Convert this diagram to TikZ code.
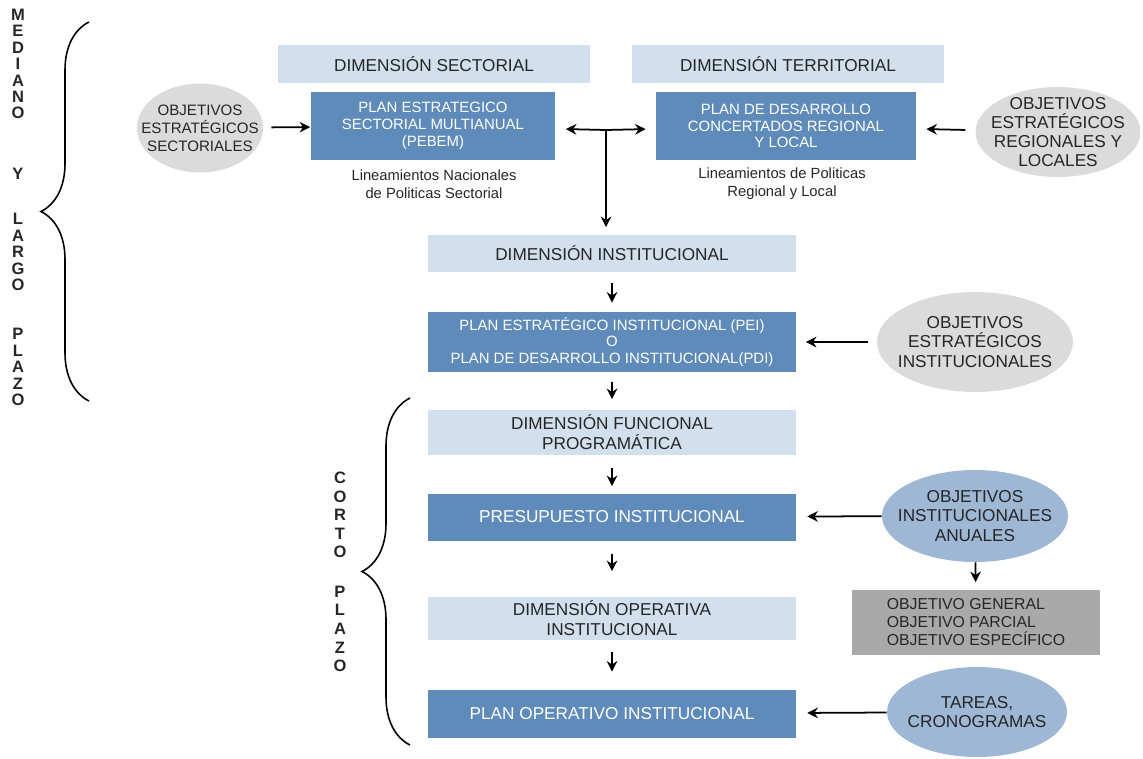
\documentclass[tikz,border=0pt]{standalone}
\usepackage{fontspec}
\setmainfont{Liberation Sans}[BoldFont={Liberation Sans Bold}]
\usepackage{tikz}
\usetikzlibrary{positioning,shapes.geometric,arrows.meta,decorations.pathreplacing}

\definecolor{dimblue}{HTML}{D2DFEC}
\definecolor{planblue}{HTML}{5F8BBA}
\definecolor{objgray}{HTML}{DBDBDB}
\definecolor{objblue}{HTML}{9DB7D5}
\definecolor{listgray}{HTML}{A9A9A9}
\definecolor{txtgray}{HTML}{262626}

\tikzset{
  dimbox/.style={fill=dimblue, text=txtgray, minimum width=7.36cm, align=center, inner sep=2pt, font=\fontsize{9.8}{11.2}\selectfont},
  planbox/.style={fill=planblue, text=white, minimum width=7.38cm, align=center, inner sep=2pt, font=\fontsize{8.5}{9.5}\selectfont},
  objell/.style={ellipse, fill=objgray, text=txtgray, align=center, inner sep=-8pt, font=\fontsize{9.8}{11}\selectfont},
  objanu/.style={objell, fill=objblue},
  listbox/.style={fill=listgray, text=txtgray, align=left, inner sep=2pt, font=\fontsize{9}{10.5}\selectfont},
  linea/.style={text=txtgray, align=center, inner sep=0pt, font=\fontsize{8.4}{10.2}\selectfont},
  vletters/.style={text=txtgray, align=center, inner sep=0pt, font=\bfseries\fontsize{9.4}{#1}\selectfont},
  arr/.style={-{Stealth[length=6pt,width=6pt]}, line width=1pt},
  bigbrace/.style={decorate, decoration={brace, amplitude=0.96cm}, line width=0.9pt}
}

\begin{document}
\begin{tikzpicture}[x=0.02cm, y=-0.02cm]
\useasboundingbox (0,0) rectangle (1143,758);

% plazo labels and braces
\node[vletters=9.36pt] (lmed) at (18,64) {M\\E\\D\\I\\A\\N\\O};
\node[vletters=9.36pt] (ly) at (18,174) {Y};
\node[vletters=9.36pt] (llar) at (18,252) {L\\A\\R\\G\\O};
\node[vletters=9.36pt] (lpla) at (18,367) {P\\L\\A\\Z\\O};
\node[vletters=10.6pt] (lcor) at (340,515) {C\\O\\R\\T\\O};
\node[vletters=10.6pt] (lplz) at (340,629) {P\\L\\A\\Z\\O};
\draw[bigbrace] (89,401) -- (89,22);
\draw[bigbrace] (410,745) -- (410,398);

% dimensiones
\node[dimbox, minimum width=6.24cm, minimum height=0.76cm] (dsec) at (434,64) {DIMENSIÓN SECTORIAL};
\node[dimbox, minimum width=6.26cm, minimum height=0.76cm] (dter) at (788,64) {DIMENSIÓN TERRITORIAL};
\node[planbox, minimum width=4.9cm, minimum height=1.36cm] (pebem) at (433,126) {PLAN ESTRATEGICO\\SECTORIAL MULTIANUAL\\(PEBEM)};
\node[planbox, minimum width=5.2cm, minimum height=1.36cm] (pdc) at (786,126) {PLAN DE DESARROLLO\\CONCERTADOS REGIONAL\\Y LOCAL};
\node[linea] (lnac) at (434,184) {Lineamientos Nacionales\\de Politicas Sectorial};
\node[linea] (lreg) at (782,184) {Lineamientos de Politicas\\Regional y Local};

\node[objell, minimum width=2.48cm, minimum height=1.78cm, font=\fontsize{8.6}{10.2}\selectfont] (osec) at (200,128) {OBJETIVOS\\ESTRATÉGICOS\\SECTORIALES};
\node[objell, minimum width=3.3cm, minimum height=1.8cm, font=\fontsize{9.8}{10.8}\selectfont] (oreg) at (1058,132) {OBJETIVOS\\ESTRATÉGICOS\\REGIONALES Y\\LOCALES};

% cadena institucional
\node[dimbox, minimum height=0.74cm] (dinst) at (612,253) {DIMENSIÓN INSTITUCIONAL};
\node[planbox, minimum height=1.2cm] (pei) at (612,342) {PLAN ESTRATÉGICO INSTITUCIONAL (PEI)\\O\\PLAN DE DESARROLLO INSTITUCIONAL(PDI)};
\node[dimbox, minimum height=0.9cm] (dfun) at (612,432) {DIMENSIÓN FUNCIONAL\\PROGRAMÁTICA};
\node[planbox, minimum width=7.36cm, minimum height=0.94cm, font=\fontsize{9.8}{11}\selectfont] (presu) at (612,517) {PRESUPUESTO INSTITUCIONAL};
\node[dimbox, minimum height=0.86cm] (dope) at (612,618) {DIMENSIÓN OPERATIVA\\INSTITUCIONAL};
\node[planbox, minimum width=7.36cm, minimum height=0.96cm, font=\fontsize{9.8}{11}\selectfont] (poi) at (612,714) {PLAN OPERATIVO INSTITUCIONAL};

\node[objell, minimum width=3.92cm, minimum height=2cm, font=\fontsize{9.8}{11.3}\selectfont] (oinst) at (975,342) {OBJETIVOS\\ESTRATÉGICOS\\INSTITUCIONALES};
\node[objanu, minimum width=3.72cm, minimum height=1.84cm] (oanu) at (975,516) {OBJETIVOS\\INSTITUCIONALES\\ANUALES};
\node[listbox, minimum width=4.96cm, minimum height=1.3cm] (olist) at (976,622) {OBJETIVO GENERAL\\OBJETIVO PARCIAL\\OBJETIVO ESPECÍFICO};
\node[objanu, minimum width=3.6cm, minimum height=1.8cm] (otar) at (977,712) {TAREAS,\\CRONOGRAMAS};

% flechas
\coordinate (tj) at (606,130);
\draw[arr, shorten <=0.16cm] (osec) -- (pebem);
\draw[arr, shorten <=0.2cm, shorten >=0.2cm] (oreg) -- (pdc);
\draw[arr, shorten >=0.2cm] (tj) -- (pebem);
\draw[arr, shorten >=0.2cm] (tj) -- (pdc);
\draw[arr, shorten >=0.14cm] (tj) -- (tj |- dinst.north);

\draw[arr, shorten <=0.22cm, shorten >=0.18cm] (dinst) -- (pei);
\draw[arr, shorten <=0.2cm, shorten >=0.2cm] (pei) -- (dfun);
\draw[arr, shorten <=0.26cm, shorten >=0.14cm] (dfun) -- (presu);
\draw[arr, shorten <=0.26cm, shorten >=0.5cm] (presu) -- (dope);
\draw[arr, shorten <=0.24cm, shorten >=0.36cm] (dope) -- (poi);

\draw[arr, shorten <=0.18cm, shorten >=0.18cm] (oinst) -- (pei);
\draw[arr, shorten >=0.22cm] (oanu) -- (presu);
\draw[arr, shorten >=0.14cm] (oanu) -- (olist);
\draw[arr, shorten >=0.22cm] (otar) -- (poi);
\end{tikzpicture}
\end{document}
